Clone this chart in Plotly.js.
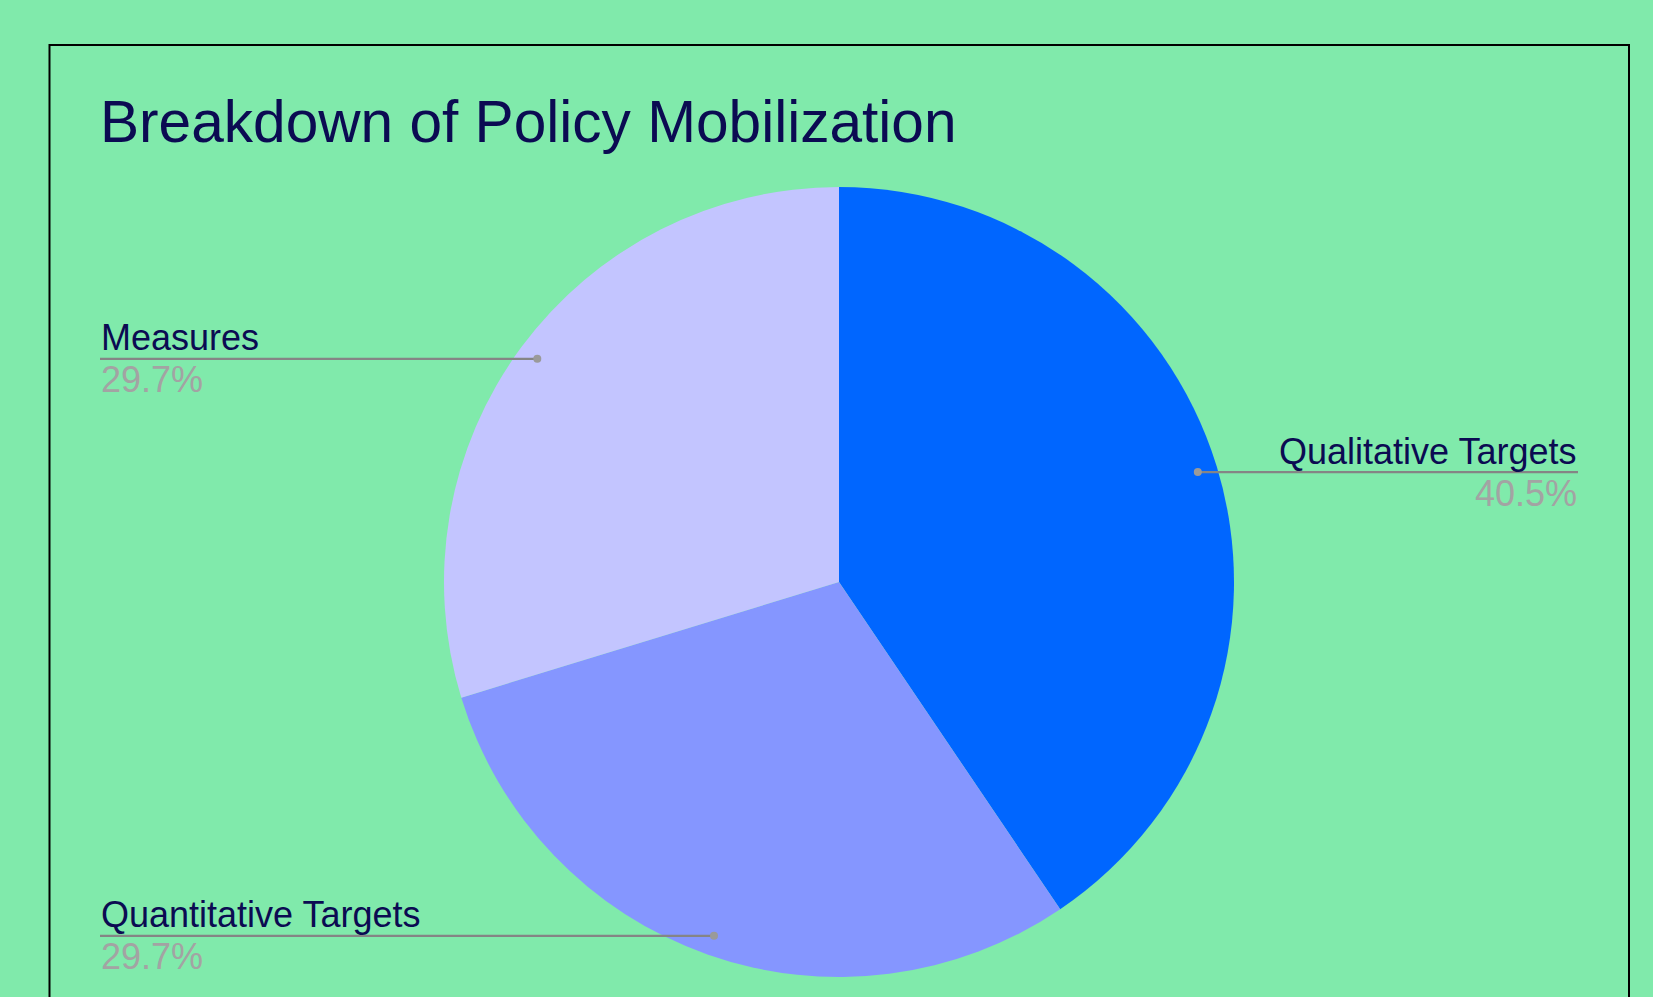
<!DOCTYPE html>
<html>
<head>
<meta charset="utf-8">
<script src="https://cdn.plot.ly/plotly-3.0.1.min.js"></script>
<style>
html,body{margin:0;padding:0;background:#80eaab;overflow:hidden;}
#chart{width:1653px;height:997px;}
</style>
</head>
<body>
<div id="chart"></div>
<script>
// ---- data ----
var categories = ["Qualitative Targets", "Quantitative Targets", "Measures"];
var counts = [15, 11, 11];
var chartTitle = "Breakdown of Policy Mobilization";

// ---- style ----
var sliceColors = ["#0066ff", "#8596ff", "#c3c5ff"];
var W = 1653, H = 997;
var FONT = "Arial, 'Liberation Sans', sans-serif";
var navy = "#0b0b52";
var grey = "#a3a3a3";
var domX = [444 / W, 1234 / W];
var domY = [1 - 977 / H, 1 - 187 / H];
var leftX = 100 / W, rightX = 1578 / W;

var total = counts.reduce(function (a, b) { return a + b; }, 0);
var cx = (domX[0] + domX[1]) / 2, cy = (domY[0] + domY[1]) / 2;
var Rpx = Math.min((domX[1] - domX[0]) * W, (domY[1] - domY[0]) * H) / 2;

var shapes = [{
  type: "rect", xref: "paper", yref: "paper",
  x0: 49.5 / W, x1: 1629 / W, y0: -0.1, y1: 1 - 45 / H,
  line: { color: "#000000", width: 2 }, fillcolor: "rgba(0,0,0,0)", layer: "below"
}];
var annotations = [];
var cum = 0;
for (var i = 0; i < counts.length; i++) {
  var frac = counts[i] / total;
  var mid = (cum + frac / 2) * 2 * Math.PI;
  cum += frac;
  var r = 0.95 * Rpx;
  var px = cx + r * Math.sin(mid) / W;
  var py = cy + r * Math.cos(mid) / H;
  var isRight = px > cx;
  var tx = isRight ? rightX : leftX;
  shapes.push({
    type: "line", xref: "paper", yref: "paper",
    x0: isRight ? px : tx, x1: isRight ? tx : px, y0: py, y1: py,
    line: { color: "#858585", width: 2.2 }
  });
  shapes.push({
    type: "circle", xref: "paper", yref: "paper",
    xsizemode: "pixel", ysizemode: "pixel", xanchor: px, yanchor: py,
    x0: -4, x1: 4, y0: -4, y1: 4,
    fillcolor: "#9a9a9a", line: { width: 0 }
  });
  annotations.push({
    xref: "paper", yref: "paper", x: tx, y: py + 21 / H,
    xanchor: isRight ? "right" : "left", yanchor: "middle",
    text: categories[i], showarrow: false, borderpad: 0,
    font: { family: FONT, size: 36, color: navy }
  });
  annotations.push({
    xref: "paper", yref: "paper", x: tx, y: py - 21 / H,
    xanchor: isRight ? "right" : "left", yanchor: "middle",
    text: (frac * 100).toFixed(1) + "%", showarrow: false, borderpad: 0,
    font: { family: FONT, size: 36, color: grey }
  });
}

var trace = {
  type: "pie",
  labels: categories,
  values: counts,
  sort: false,
  direction: "clockwise",
  rotation: 0,
  textinfo: "none",
  hoverinfo: "label+percent",
  marker: { colors: sliceColors, line: { width: 0 } },
  domain: { x: domX, y: domY }
};

var layout = {
  width: W, height: H,
  margin: { l: 0, r: 0, t: 0, b: 0 },
  paper_bgcolor: "#80eaab",
  plot_bgcolor: "#80eaab",
  showlegend: false,
  title: {
    text: chartTitle,
    x: 100 / W, xref: "paper", xanchor: "left",
    y: 1 - 121 / H, yref: "container", yanchor: "middle",
    font: { family: FONT, size: 58.6, color: navy }
  },
  shapes: shapes,
  annotations: annotations
};

Plotly.newPlot("chart", [trace], layout, { displayModeBar: false, staticPlot: true });
</script>
</body>
</html>
